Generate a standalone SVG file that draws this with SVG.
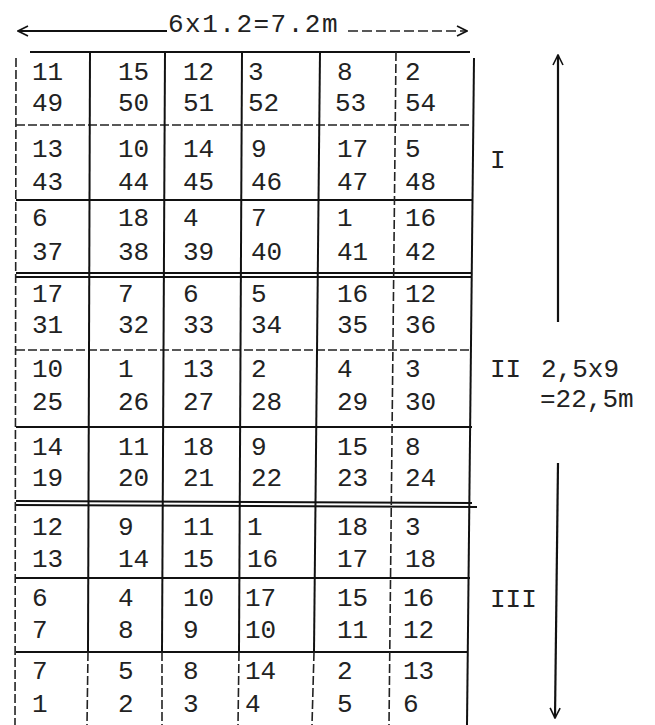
<svg xmlns="http://www.w3.org/2000/svg" width="655" height="725" viewBox="0 0 655 725">
<style>
.t{font-family:"Liberation Mono","DejaVu Sans Mono",monospace;font-size:26px;fill:#222}
.lbl{font-family:"Liberation Mono","DejaVu Sans Mono",monospace;font-size:26px;fill:#222}
.g{stroke:#111;stroke-width:2;fill:none}
.gd{stroke:#222;stroke-width:1.6;fill:none;stroke-dasharray:9 3}
.dim{stroke:#111;stroke-width:2.2;fill:none}
.dimd{stroke:#222;stroke-width:1.6;fill:none;stroke-dasharray:10 4}
</style>
<defs>
<marker id="ah" viewBox="0 0 12 12" refX="11" refY="6" markerWidth="12" markerHeight="12" markerUnits="userSpaceOnUse" orient="auto">
<path d="M1,1 L11,6 L1,11" fill="none" stroke="#111" stroke-width="1.6"/>
</marker>
</defs>
<rect width="655" height="725" fill="#fff"/>
<g id="dimensions">
<path class="dim" d="M167,31 L18,31" marker-end="url(#ah)"/>
<path class="dimd" d="M348,31 L467,31" marker-end="url(#ah)"/>
<path class="dim" d="M558,322 L558,55" marker-end="url(#ah)"/>
<path class="dim" d="M558,463 L555,718" marker-end="url(#ah)"/>
</g>
<g id="grid">
<line class="g" x1="30" y1="52" x2="470" y2="52"/>
<line class="gd" x1="16" y1="125" x2="472" y2="125"/>
<line class="g" x1="16" y1="200" x2="472" y2="200" stroke-width="1.6"/>
<line class="g" x1="16" y1="273" x2="472" y2="273" stroke-width="1.6"/>
<line class="g" x1="16" y1="277" x2="472" y2="277" stroke-width="1.6"/>
<line class="gd" x1="16" y1="350" x2="472" y2="350"/>
<line class="g" x1="16" y1="427" x2="472" y2="427" stroke-width="1.6"/>
<line class="g" x1="16" y1="501" x2="472" y2="503" stroke-width="1.6"/>
<line class="g" x1="16" y1="505" x2="477" y2="507" stroke-width="1.6"/>
<line class="g" x1="16" y1="578" x2="470" y2="578"/>
<line class="g" x1="16" y1="652" x2="468" y2="652"/>
<line class="gd" x1="16" y1="58" x2="15" y2="725"/>
<line class="g" x1="90" y1="52" x2="88" y2="652"/>
<line class="gd" x1="88" y1="652" x2="87" y2="725"/>
<line class="g" x1="165" y1="52" x2="162" y2="652"/>
<line class="gd" x1="162" y1="652" x2="162" y2="725"/>
<line class="g" x1="242" y1="52" x2="239" y2="652"/>
<line class="gd" x1="239" y1="652" x2="238" y2="725"/>
<line class="g" x1="320" y1="52" x2="314" y2="652"/>
<line class="gd" x1="314" y1="652" x2="312" y2="725"/>
<line class="gd" x1="396" y1="52" x2="389" y2="725"/>
<line class="g" x1="474" y1="58" x2="467" y2="725"/>
</g>
<g id="title"><text class="t" x="168" y="32" letter-spacing="1.5">6x1.2=7.2m</text></g>
<g id="labels">
<text class="lbl" x="490" y="168">I</text>
<text class="lbl" x="490" y="377">II</text>
<text class="lbl" x="541" y="377">2,5x9</text>
<text class="lbl" x="540" y="407">=22,5m</text>
<text class="lbl" x="490" y="607">III</text>
</g>
<g id="cells">
<g id="r1"><text class="t" y="80"><tspan x="32">11</tspan><tspan x="118">15</tspan><tspan x="183">12</tspan><tspan x="248">3</tspan><tspan x="337">8</tspan><tspan x="405">2</tspan></text><text class="t" y="111"><tspan x="32">49</tspan><tspan x="118">50</tspan><tspan x="183">51</tspan><tspan x="248">52</tspan><tspan x="335">53</tspan><tspan x="405">54</tspan></text></g>
<g id="r2"><text class="t" y="157"><tspan x="32">13</tspan><tspan x="118">10</tspan><tspan x="183">14</tspan><tspan x="251">9</tspan><tspan x="337">17</tspan><tspan x="405">5</tspan></text><text class="t" y="190"><tspan x="32">43</tspan><tspan x="118">44</tspan><tspan x="183">45</tspan><tspan x="251">46</tspan><tspan x="337">47</tspan><tspan x="405">48</tspan></text></g>
<g id="r3"><text class="t" y="226"><tspan x="32">6</tspan><tspan x="118">18</tspan><tspan x="183">4</tspan><tspan x="251">7</tspan><tspan x="337">1</tspan><tspan x="405">16</tspan></text><text class="t" y="260"><tspan x="32">37</tspan><tspan x="118">38</tspan><tspan x="183">39</tspan><tspan x="251">40</tspan><tspan x="337">41</tspan><tspan x="405">42</tspan></text></g>
<g id="r4"><text class="t" y="302"><tspan x="32">17</tspan><tspan x="118">7</tspan><tspan x="183">6</tspan><tspan x="251">5</tspan><tspan x="337">16</tspan><tspan x="405">12</tspan></text><text class="t" y="333"><tspan x="32">31</tspan><tspan x="118">32</tspan><tspan x="183">33</tspan><tspan x="251">34</tspan><tspan x="337">35</tspan><tspan x="405">36</tspan></text></g>
<g id="r5"><text class="t" y="377"><tspan x="32">10</tspan><tspan x="118">1</tspan><tspan x="183">13</tspan><tspan x="251">2</tspan><tspan x="337">4</tspan><tspan x="405">3</tspan></text><text class="t" y="410"><tspan x="32">25</tspan><tspan x="118">26</tspan><tspan x="183">27</tspan><tspan x="251">28</tspan><tspan x="337">29</tspan><tspan x="405">30</tspan></text></g>
<g id="r6"><text class="t" y="455"><tspan x="32">14</tspan><tspan x="118">11</tspan><tspan x="183">18</tspan><tspan x="251">9</tspan><tspan x="337">15</tspan><tspan x="405">8</tspan></text><text class="t" y="486"><tspan x="32">19</tspan><tspan x="118">20</tspan><tspan x="183">21</tspan><tspan x="251">22</tspan><tspan x="337">23</tspan><tspan x="405">24</tspan></text></g>
<g id="r7"><text class="t" y="535"><tspan x="32">12</tspan><tspan x="118">9</tspan><tspan x="183">11</tspan><tspan x="247">1</tspan><tspan x="337">18</tspan><tspan x="405">3</tspan></text><text class="t" y="567"><tspan x="32">13</tspan><tspan x="118">14</tspan><tspan x="183">15</tspan><tspan x="247">16</tspan><tspan x="337">17</tspan><tspan x="405">18</tspan></text></g>
<g id="r8"><text class="t" y="606"><tspan x="32">6</tspan><tspan x="118">4</tspan><tspan x="183">10</tspan><tspan x="245">17</tspan><tspan x="337">15</tspan><tspan x="403">16</tspan></text><text class="t" y="638"><tspan x="32">7</tspan><tspan x="118">8</tspan><tspan x="183">9</tspan><tspan x="245">10</tspan><tspan x="337">11</tspan><tspan x="403">12</tspan></text></g>
<g id="r9"><text class="t" y="679"><tspan x="32">7</tspan><tspan x="118">5</tspan><tspan x="183">8</tspan><tspan x="245">14</tspan><tspan x="337">2</tspan><tspan x="403">13</tspan></text><text class="t" y="712"><tspan x="32">1</tspan><tspan x="118">2</tspan><tspan x="183">3</tspan><tspan x="245">4</tspan><tspan x="337">5</tspan><tspan x="403">6</tspan></text></g>
</g>
</svg>
